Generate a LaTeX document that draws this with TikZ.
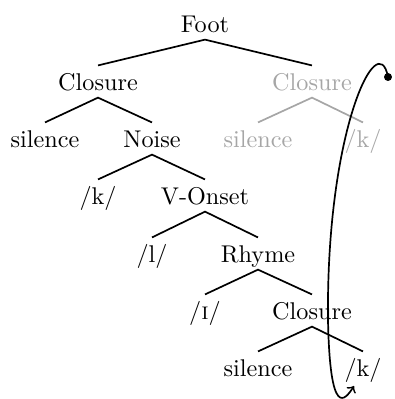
\documentclass[tikz,border=0pt]{standalone}
\begin{document}
\begin{tikzpicture}[x=0.413pt,y=-0.413pt,line width=0.7pt,
  every node/.style={anchor=base,text height=7pt,text depth=0pt,inner ysep=2.8pt},
  ghost/.style={black!35}]
  \useasboundingbox (0,0) rectangle (395,399);

  \node (foot)    at (205,32)  {Foot};
  \node (closA)   at (98,90)   {Closure};
  \node[ghost] (closB) at (312,90) {Closure};
  \node (silA)    at (45,147)  {silence};
  \node (noise)   at (152,147) {Noise};
  \node[ghost] (silB) at (258,147) {silence};
  \node[ghost] (kB)   at (363,147) {/k/};
  \node (kA)      at (98,204)  {/k/};
  \node (onset)   at (205,204) {V-Onset};
  \node (l)       at (152,262) {/l/};
  \node (rhyme)   at (258,262) {Rhyme};
  \node (i)       at (205,319) {/\textsc{i}/};
  \node (closC)   at (312,319) {Closure};
  \node (silC)    at (258,376) {silence};
  \node (kC)      at (363,376) {/k/};

  \draw (closA.north) -- (foot.south) -- (closB.north);
  \draw (silA.north) -- (closA.south) -- (noise.north);
  \draw[ghost] (silB.north) -- (closB.south) -- (kB.north);
  \draw (kA.north) -- (noise.south) -- (onset.north);
  \draw (l.north) -- (onset.south) -- (rhyme.north);
  \draw (i.north) -- (rhyme.south) -- (closC.north);
  \draw (silC.north) -- (closC.south) -- (kC.north);

  % the loop back
  \coordinate (start) at (388,77);
  \coordinate (turn)  at (328,320);
  \coordinate (tip)   at (354,386);
  \fill (start) circle (1.65pt);
  \draw[->] (start) .. controls (378,25) and (326,130) .. (turn)
    .. controls (330,420) and (345,400) .. (tip);
\end{tikzpicture}
\end{document}
